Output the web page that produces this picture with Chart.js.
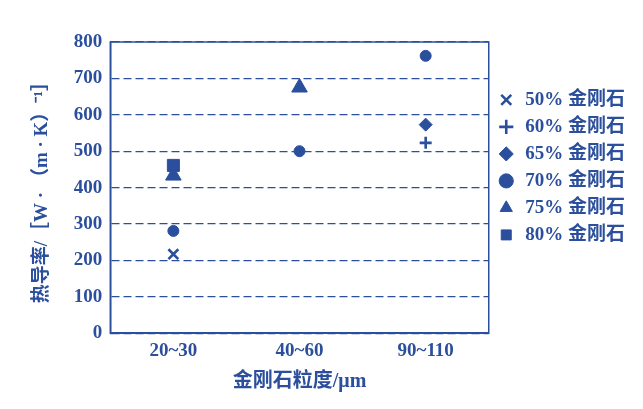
<!DOCTYPE html>
<html>
<head>
<meta charset="utf-8">
<script src="https://cdn.jsdelivr.net/npm/chart.js@4"></script>
<style>
  html, body { margin: 0; padding: 0; background: #fff; }
  #wrap { width: 643px; height: 409px; }
</style>
</head>
<body>
<div id="wrap"><canvas id="Thermal-Chart" width="643" height="409"></canvas></div>
<script>
//-------------------------------------------------- Data
const categories = ["20~30", "40~60", "90~110"];
const seriesNames = ["50% 金刚石", "60% 金刚石", "65% 金刚石", "70% 金刚石", "75% 金刚石", "80% 金刚石"];
const d50 = [217, null, null];
const d60 = [null, null, 523];
const d65 = [null, null, 573];
const d70 = [281, 500, 762];
const d75 = [433, 675, null];
const d80 = [461, null, null];
const yTicks = [0, 100, 200, 300, 400, 500, 600, 700, 800];
//^^^^^^^^^^^^^^^^^^^^^^^^^^^^^^^^^^^^^^^^^^^^^^^^^^ Data

const BLUE = "#2b4f9c";
const FONT = "'Liberation Serif', 'Noto Sans CJK SC', serif";

function series(label, data, style, radius, filled) {
	return {
		label: label,
		data: data,
		showLine: false,
		pointStyle: style,
		pointRadius: radius,
		pointHoverRadius: radius,
		pointBorderWidth: filled ? 1 : 2.6,
		pointBackgroundColor: BLUE,
		pointBorderColor: BLUE,
		borderColor: BLUE,
		backgroundColor: BLUE
	};
}

// solid box round the plot area
const frame = {
	id: "frame",
	afterDatasetsDraw(chart) {
		const a = chart.chartArea, ctx = chart.ctx;
		ctx.save();
		ctx.strokeStyle = BLUE;
		ctx.lineWidth = 1.5;
		ctx.setLineDash([]);
		ctx.strokeRect(a.left, a.top, a.right - a.left, a.bottom - a.top);
		ctx.restore();
	}
};

new Chart(document.getElementById("Thermal-Chart").getContext("2d"), {
	type: "line",
	data: {
		labels: categories,
		datasets: [
			series(seriesNames[0], d50, "crossRot", 7, false),
			series(seriesNames[1], d60, "cross", 6, false),
			series(seriesNames[2], d65, "rectRot", 6.5, true),
			series(seriesNames[3], d70, "circle", 5.5, true),
			series(seriesNames[4], d75, "triangle", 9, true),
			series(seriesNames[5], d80, "rect", 8.5, true)
		]
	},
	options: {
		responsive: false,
		animation: false,
		layout: { padding: { left: 31, top: 42, right: 8, bottom: 15 } },
		plugins: {
			tooltip: { enabled: false },
			legend: {
				position: "right",
				align: "start",
				fullSize: false,
				title: { display: true, text: " ", padding: { top: 26, bottom: 0 } },
				labels: {
					usePointStyle: true,
					boxHeight: 10,
					padding: 8,
					color: BLUE,
					font: { family: FONT, size: 19, weight: "bold" }
				}
			}
		},
		scales: {
			x: {
				type: "category",
				offset: true,
				grid: { display: false, drawTicks: false },
				border: { color: BLUE, width: 1.5 },
				ticks: { color: BLUE, padding: 6, font: { family: FONT, size: 19, weight: "bold" } },
				title: {
					display: true,
					text: "金刚石粒度/μm",
					color: BLUE,
					padding: { top: 2, bottom: 0 },
					font: { family: FONT, size: 20, weight: "bold" }
				}
			},
			y: {
				min: 0,
				max: 800,
				afterBuildTicks: axis => { axis.ticks = yTicks.map(v => ({ value: v })); },
				grid: { color: BLUE, lineWidth: 1.2, drawTicks: false },
				border: { color: BLUE, width: 1.5, dash: [8, 4] },
				ticks: { color: BLUE, padding: 8, font: { family: FONT, size: 19, weight: "bold" } },
				title: {
					display: true,
					text: "热导率/［W · （m · K）⁻¹］",
					color: BLUE,
					padding: { top: 0, bottom: 12 },
					font: { family: FONT, size: 19, weight: "bold" }
				}
			}
		}
	},
	plugins: [frame]
});
</script>
</body>
</html>
